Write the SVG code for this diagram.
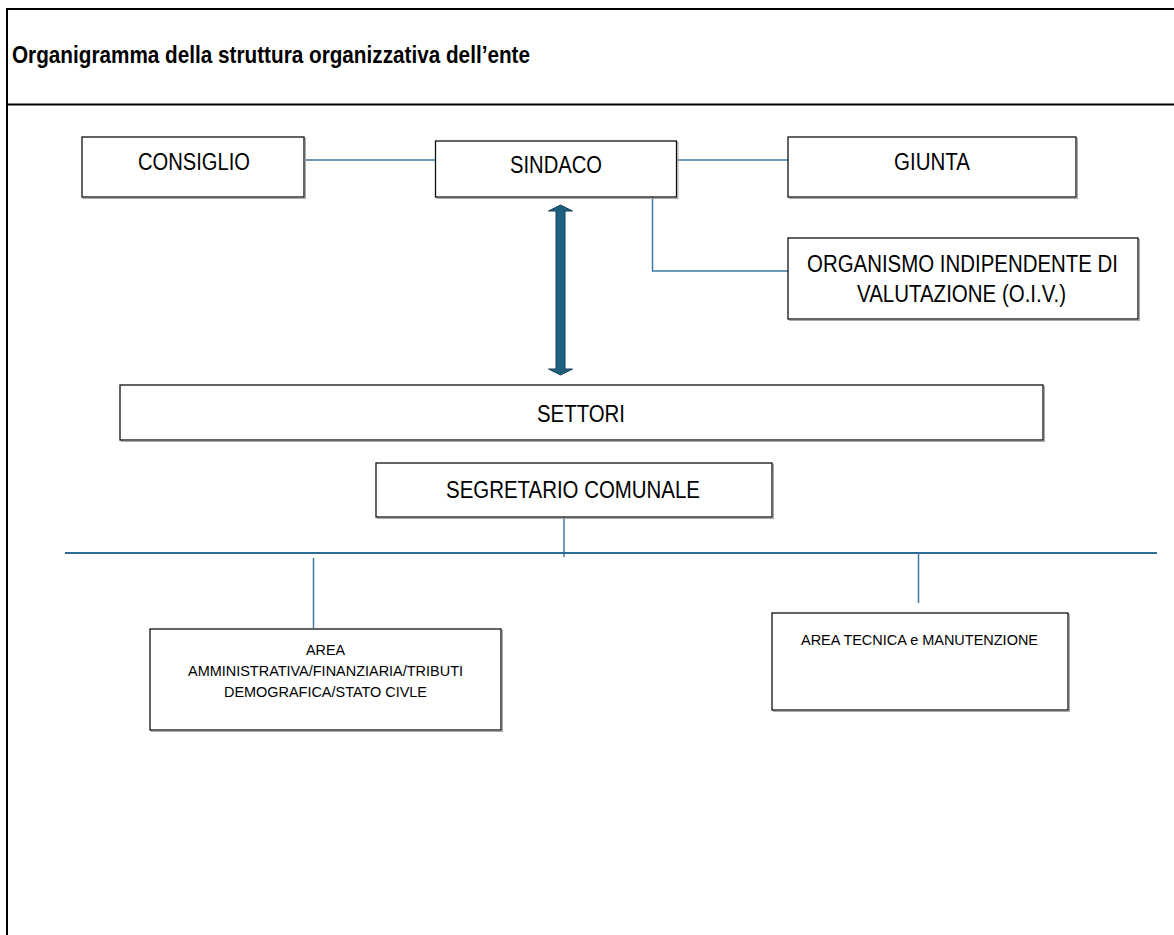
<svg xmlns="http://www.w3.org/2000/svg" width="1174" height="935" viewBox="0 0 1174 935">
<style>
.frame{stroke:#000;stroke-width:2;fill:none}
.box{fill:#fff;stroke:#111;stroke-width:1.3}
.shadow{fill:none;stroke:#aaa;stroke-width:1}
.lbl{font-family:"Liberation Sans",Arial,sans-serif;font-size:23px;fill:#000}
.sm{font-family:"Liberation Sans",Arial,sans-serif;font-size:15px;fill:#000}
.title{font-family:"Liberation Sans",Arial,sans-serif;font-size:23px;font-weight:bold;fill:#000}
.conn{stroke:#3f7aa3;stroke-width:1.5;fill:none}
.bus{stroke:#2f6b94;stroke-width:2;fill:none}
</style>
<rect width="1174" height="935" fill="#fff"/>
<g id="frame">
<line class="frame" x1="7" y1="9" x2="1174" y2="9"/>
<line class="frame" x1="7" y1="8" x2="7" y2="935"/>
<line class="frame" x1="7" y1="104.5" x2="1174" y2="104.5"/>
<text class="title" x="12" y="63" textLength="518" lengthAdjust="spacingAndGlyphs">Organigramma della struttura organizzativa dell’ente</text>
</g>
<g id="connectors">
<line class="conn" x1="305" y1="160" x2="436" y2="160"/>
<line class="conn" x1="677" y1="160" x2="788" y2="160"/>
<polyline class="conn" points="652.5,197 652.5,271 788,271"/>
<line class="conn" x1="564" y1="517" x2="564" y2="557"/>
<line class="bus" x1="65" y1="553" x2="1157" y2="553"/>
<line class="conn" x1="313.5" y1="558" x2="313.5" y2="628"/>
<line class="conn" x1="918.5" y1="553" x2="918.5" y2="603"/>
<polygon points="560.5,205 572.5,211 565,211 565,369 572.5,369 560.5,375 548.5,369 556,369 556,211 548.5,211" fill="#1f5f80" stroke="#163f58" stroke-width="1"/>
</g>
<g id="consiglio">
<rect class="shadow" x="83.5" y="138.5" width="222" height="60"/>
<rect class="box" x="82" y="137" width="222" height="60"/>
<text class="lbl" x="138" y="170" textLength="112" lengthAdjust="spacingAndGlyphs">CONSIGLIO</text>
</g>
<g id="sindaco">
<rect class="shadow" x="437" y="142.5" width="241" height="56"/>
<rect class="box" x="435.5" y="141" width="241" height="56"/>
<text class="lbl" x="510" y="173" textLength="92" lengthAdjust="spacingAndGlyphs">SINDACO</text>
</g>
<g id="giunta">
<rect class="shadow" x="789.5" y="138.5" width="288" height="60"/>
<rect class="box" x="788" y="137" width="288" height="60"/>
<text class="lbl" x="894" y="170" textLength="76" lengthAdjust="spacingAndGlyphs">GIUNTA</text>
</g>
<g id="oiv">
<rect class="shadow" x="789.5" y="239.5" width="350" height="81"/>
<rect class="box" x="788" y="238" width="350" height="81"/>
<text class="lbl" x="807" y="272" textLength="311" lengthAdjust="spacingAndGlyphs">ORGANISMO INDIPENDENTE DI</text>
<text class="lbl" x="857" y="302" textLength="209" lengthAdjust="spacingAndGlyphs">VALUTAZIONE (O.I.V.)</text>
</g>
<g id="settori">
<rect class="shadow" x="121.5" y="386.5" width="923" height="55"/>
<rect class="box" x="120" y="385" width="923" height="55"/>
<text class="lbl" x="537" y="422" textLength="88" lengthAdjust="spacingAndGlyphs">SETTORI</text>
</g>
<g id="segretario">
<rect class="shadow" x="377.5" y="464.5" width="396" height="54"/>
<rect class="box" x="376" y="463" width="396" height="54"/>
<text class="lbl" x="446" y="498" textLength="254" lengthAdjust="spacingAndGlyphs">SEGRETARIO COMUNALE</text>
</g>
<g id="area-amministrativa">
<rect class="shadow" x="151.5" y="630.5" width="351" height="101"/>
<rect class="box" x="150" y="629" width="351" height="101"/>
<text class="sm" x="306" y="655" textLength="39" lengthAdjust="spacingAndGlyphs">AREA</text>
<text class="sm" x="188" y="676" textLength="275" lengthAdjust="spacingAndGlyphs">AMMINISTRATIVA/FINANZIARIA/TRIBUTI</text>
<text class="sm" x="224" y="697" textLength="203" lengthAdjust="spacingAndGlyphs">DEMOGRAFICA/STATO CIVLE</text>
</g>
<g id="area-tecnica">
<rect class="shadow" x="773.5" y="614.5" width="296" height="97"/>
<rect class="box" x="772" y="613" width="296" height="97"/>
<text class="sm" x="801" y="645" textLength="237" lengthAdjust="spacingAndGlyphs">AREA TECNICA e MANUTENZIONE</text>
</g>
</svg>
